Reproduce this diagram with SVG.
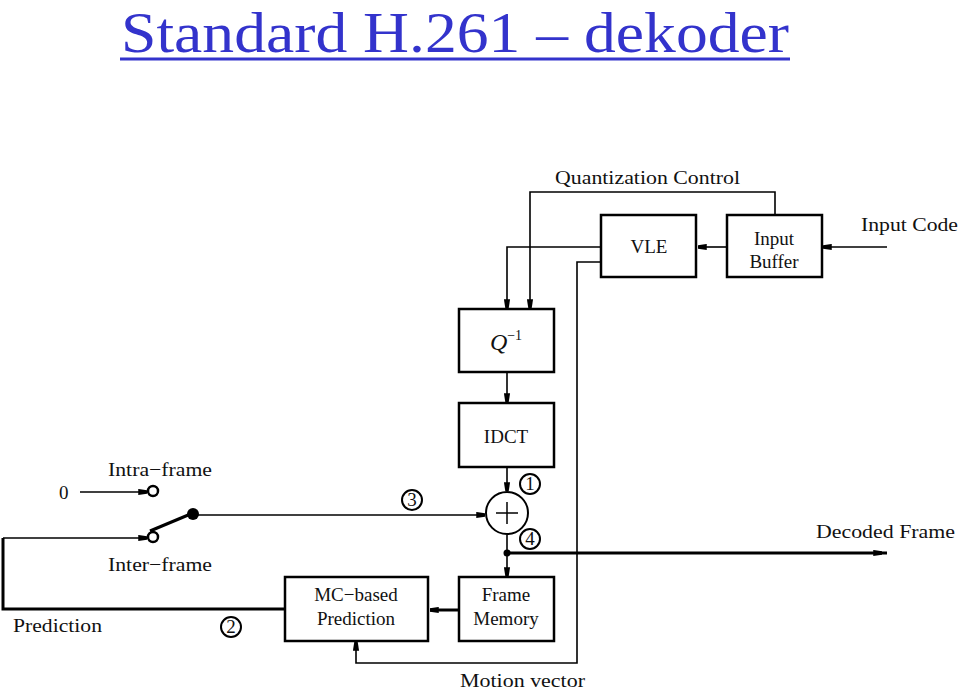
<svg xmlns="http://www.w3.org/2000/svg" width="960" height="690" viewBox="0 0 960 690">
<style>
.t{font-family:"Liberation Serif","Times New Roman",serif;font-size:19px;fill:#111}
.c{text-anchor:middle}
.box{fill:#fff;stroke:#000;stroke-width:2.5}
.ln{fill:none;stroke:#000;stroke-width:1.6}
.thk{fill:none;stroke:#000;stroke-width:3}
.num{fill:#fff;stroke:#000;stroke-width:2}
</style>
<defs>
<marker id="a" viewBox="0 0 10 8" refX="10" refY="4" markerWidth="9" markerHeight="7" markerUnits="userSpaceOnUse" orient="auto">
<path d="M0,0.5 L10,2 L10,6 L0,7.5 Z" fill="#000"/>
</marker>
</defs>
<rect width="960" height="690" fill="#fff"/>
<g id="title">
<text x="121" y="52" font-family="Liberation Serif,Times New Roman,serif" font-size="58" fill="#3333cc" textLength="668" lengthAdjust="spacingAndGlyphs">Standard H.261 – dekoder</text>
<line x1="120" y1="59" x2="790" y2="59" stroke="#3333cc" stroke-width="3"/>
</g>
<g id="connectors">
<polyline class="ln" points="775,214 775,192 530,192 530,308" marker-end="url(#a)"/>
<polyline class="ln" points="601,247 507,247 507,308" marker-end="url(#a)"/>
<line class="ln" x1="727" y1="247" x2="698" y2="247" marker-end="url(#a)"/>
<line class="ln" x1="887" y1="247" x2="823" y2="247" marker-end="url(#a)"/>
<polyline class="ln" points="601,262 577,262 577,663 356,663 356,642" marker-end="url(#a)"/>
<line class="ln" x1="507" y1="372" x2="507" y2="402" marker-end="url(#a)"/>
<line class="ln" x1="507" y1="467" x2="507" y2="491" marker-end="url(#a)"/>
<line class="ln" x1="193" y1="515" x2="485" y2="515" marker-end="url(#a)"/>
<line class="ln" x1="507" y1="535" x2="507" y2="553"/>
<line class="ln" x1="507" y1="553" x2="507" y2="576" marker-end="url(#a)"/>
<line class="thk" x1="507" y1="553" x2="887" y2="553"/>
<line class="ln" x1="870" y1="553" x2="882" y2="553" marker-end="url(#a)"/>
<line class="thk" x1="459" y1="610" x2="430" y2="610" marker-end="url(#a)"/>
<polyline class="thk" points="285,609 3,609 3,538"/>
<line class="ln" x1="3" y1="538" x2="147" y2="538" marker-end="url(#a)"/>
<line class="ln" x1="80" y1="492" x2="147" y2="492" marker-end="url(#a)"/>
<line x1="193" y1="513" x2="150" y2="531" stroke="#000" stroke-width="3"/>
<circle cx="193" cy="514" r="6" fill="#000"/>
<circle cx="507" cy="553" r="3.5" fill="#000"/>
</g>
<g id="intra"><circle cx="153" cy="491" r="5" fill="#fff" stroke="#000" stroke-width="2.5"/></g>
<g id="inter"><circle cx="153" cy="537" r="5" fill="#fff" stroke="#000" stroke-width="2.5"/></g>
<g id="vle"><rect class="box" x="601" y="215" width="95" height="62"/><text class="t c" x="649" y="253">VLE</text></g>
<g id="buffer"><rect class="box" x="727" y="215" width="95" height="62"/><text class="t c" x="774" y="245">Input</text><text class="t c" x="774" y="268">Buffer</text></g>
<g id="qinv"><rect class="box" x="459" y="309" width="95" height="63"/><text class="t c" x="506" y="350"><tspan font-style="italic" font-size="24">Q</tspan><tspan font-size="14" dy="-10">−1</tspan></text></g>
<g id="idct"><rect class="box" x="459" y="403" width="95" height="64"/><text class="t c" x="506" y="443">IDCT</text></g>
<g id="adder"><circle cx="507" cy="513" r="21" fill="#fff" stroke="#000" stroke-width="2"/><line x1="496" y1="513" x2="518" y2="513" stroke="#000" stroke-width="1.5"/><line x1="507" y1="502" x2="507" y2="524" stroke="#000" stroke-width="1.5"/></g>
<g id="fmem"><rect class="box" x="459" y="577" width="95" height="64"/><text class="t c" x="506" y="601">Frame</text><text class="t c" x="506" y="625">Memory</text></g>
<g id="mcpred"><rect class="box" x="285" y="577" width="143" height="64"/><text class="t c" x="356" y="601">MC−based</text><text class="t c" x="356" y="625">Prediction</text></g>
<g id="n1"><circle class="num" cx="530" cy="484" r="10"/><text class="t c" x="530" y="490" font-size="16">1</text></g>
<g id="n2"><circle class="num" cx="231" cy="627" r="10"/><text class="t c" x="231" y="633" font-size="16">2</text></g>
<g id="n3"><circle class="num" cx="412" cy="500" r="10"/><text class="t c" x="412" y="506" font-size="16">3</text></g>
<g id="n4"><circle class="num" cx="530" cy="539" r="10"/><text class="t c" x="530" y="545" font-size="16">4</text></g>
<g id="labels">
<text class="t" x="555" y="184" textLength="185" lengthAdjust="spacingAndGlyphs">Quantization Control</text>
<text class="t" x="861" y="231" textLength="97" lengthAdjust="spacingAndGlyphs">Input Code</text>
<text class="t" x="108" y="476" textLength="104" lengthAdjust="spacingAndGlyphs">Intra−frame</text>
<text class="t" x="108" y="571" textLength="104" lengthAdjust="spacingAndGlyphs">Inter−frame</text>
<text class="t" x="59" y="499">0</text>
<text class="t" x="13" y="632" textLength="89" lengthAdjust="spacingAndGlyphs">Prediction</text>
<text class="t" x="816" y="538" textLength="139" lengthAdjust="spacingAndGlyphs">Decoded Frame</text>
<text class="t" x="460" y="687" textLength="125" lengthAdjust="spacingAndGlyphs">Motion vector</text>
</g>
</svg>
